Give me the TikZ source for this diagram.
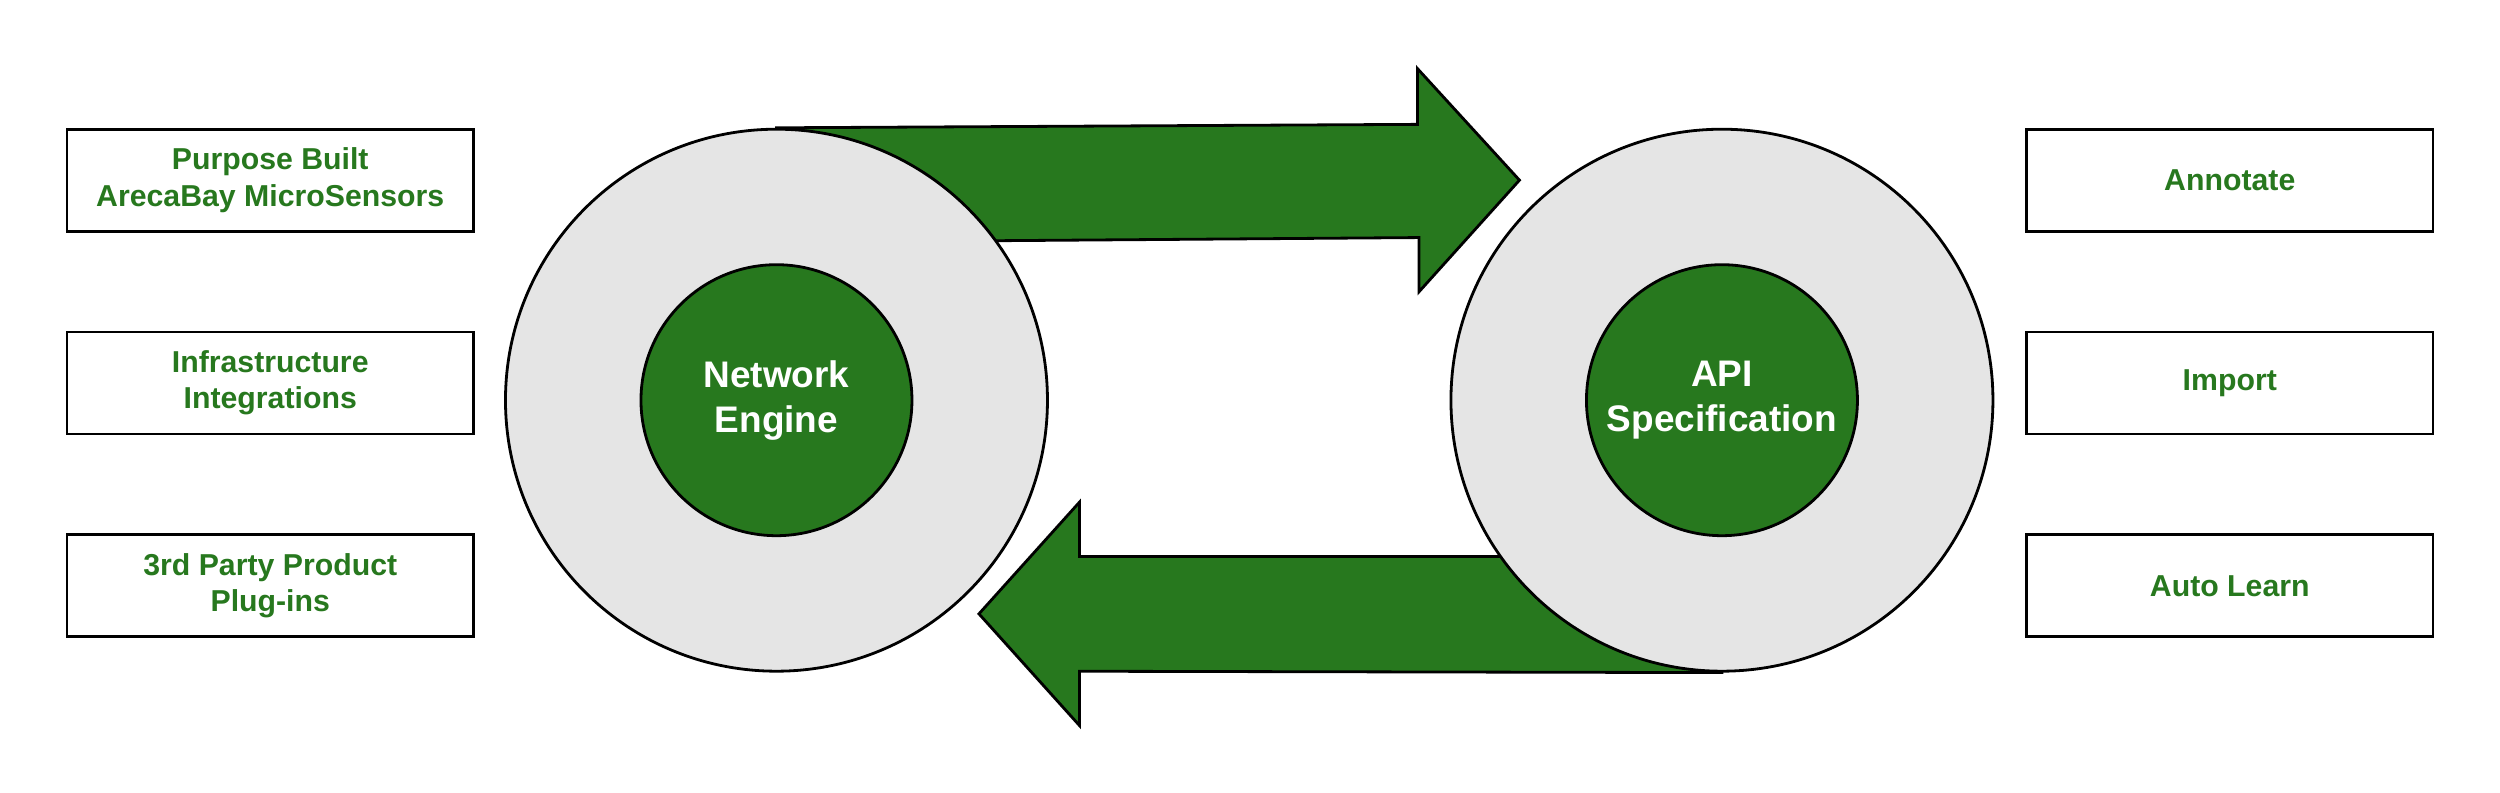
\documentclass[tikz,border=0pt]{standalone}
\usepackage{fontspec}
\setmainfont{Liberation Sans}
\usetikzlibrary{positioning,backgrounds}
\definecolor{leaf}{RGB}{39,120,30}
\definecolor{ringgray}{RGB}{229,229,229}
\tikzset{
  item/.style={draw, line width=1pt, minimum width=5.1cm, minimum height=1.28cm,
    align=center, text=leaf, font=\fontsize{10.8}{13}\selectfont\bfseries},
  hub/.style={circle, draw, line width=1pt, fill=ringgray, minimum size=6.8cm, inner sep=0pt},
  core/.style={circle, draw, line width=1pt, fill=leaf, minimum size=3.4cm, inner sep=0pt,
    text=white, align=center, font=\fontsize{13.2}{16}\selectfont\bfseries},
  flow/.style={draw, line width=1pt, fill=leaf, line join=miter}
}

\begin{document}
\begin{tikzpicture}[x=0.02cm, y=-0.02cm, node distance=1.23cm]
    \useasboundingbox (0,0) rectangle (1568,497);

    \node[hub] (ne) at (487,251) {};
    \node[hub] (api) at (1080,251) {};
    \node[core] (necore) at (ne) {Network\\Engine};
    \node[core] (apicore) at (api) {API\\Specification};

    \node[item] (pb) at (169.5,113) {Purpose Built\\ArecaBay MicroSensors};
    \node[item, below = of pb] (ii) {Infrastructure\\Integrations};
    \node[item, below = of ii] (tp) {3rd Party Product\\Plug-ins};

    \node[item] (an) at (1398.5,113) {Annotate};
    \node[item, below = of an] (im) {Import};
    \node[item, below = of im] (al) {Auto Learn};

    \begin{scope}[on background layer]
      \draw[flow] (ne.north) -- (889,78) -- (889,43) -- (953,113) -- (890,183)
        -- (890,149) -- (ne.north |- 0,152) -- cycle;
      \draw[flow] (api.south) -- (677,421) -- (677,455) -- (614,385) -- (677,315)
        -- (677,349) -- (api.south |- 0,349) -- cycle;
    \end{scope}
\end{tikzpicture}
\end{document}
